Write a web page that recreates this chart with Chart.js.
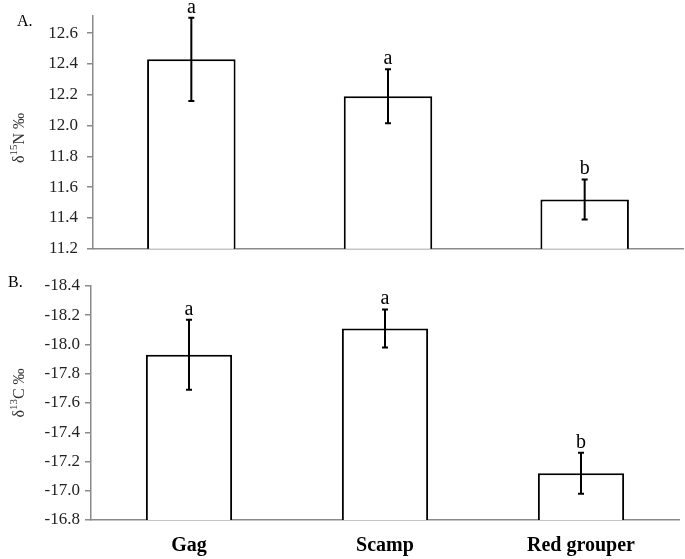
<!DOCTYPE html>
<html>
<head>
<meta charset="utf-8">
<script src="https://cdn.jsdelivr.net/npm/chart.js@4/dist/chart.umd.min.js"></script>
<style>
  html, body { margin: 0; padding: 0; background: #fff; }
  body { position: relative; width: 685px; height: 559px; overflow: hidden; }
  canvas { display: block; position: absolute; left: 0; }
  #chartA { top: -3px; }
  #chartB { top: 260px; }
</style>
</head>
<body>
<canvas id="chartA" width="685" height="271"></canvas>
<canvas id="chartB" width="685" height="299"></canvas>
<script>
// species along the x axis
const species = ["Gag", "Scamp", "Red grouper"];

// panel A: d15N means, error half-widths, significance letters
const nMeans = [12.43, 12.19, 11.52];
const nErr = [0.27, 0.175, 0.13];
const nLetters = ["a", "a", "b"];
const nTicks = [11.2, 11.4, 11.6, 11.8, 12.0, 12.2, 12.4, 12.6];

// panel B: d13C means, error half-widths, significance letters
const cMeans = [-17.93, -18.11, -17.12];
const cErr = [0.24, 0.13, 0.14];
const cLetters = ["a", "a", "b"];
const cTicks = [-18.4, -18.2, -18.0, -17.8, -17.6, -17.4, -17.2, -17.0, -16.8];

const SERIF = "'Liberation Serif', 'Times New Roman', serif";
const AXIS = "#8a8a8a";

// error bars, letters, panel tag and axis title
const decor = {
  id: "decor",
  afterDatasetsDraw(chart, args, opts) {
    const ctx = chart.ctx;
    const x = chart.scales.x, y = chart.scales.y;
    const means = chart.data.datasets[0].data;
    ctx.save();
    ctx.strokeStyle = "#000";
    ctx.lineWidth = 2;
    means.forEach((m, i) => {
      const px = x.getPixelForValue(i);
      const y1 = y.getPixelForValue(m + opts.err[i]);
      const y2 = y.getPixelForValue(m - opts.err[i]);
      ctx.beginPath();
      ctx.moveTo(px, y1); ctx.lineTo(px, y2);
      ctx.moveTo(px - 3, y1); ctx.lineTo(px + 3, y1);
      ctx.moveTo(px - 3, y2); ctx.lineTo(px + 3, y2);
      ctx.stroke();
      ctx.fillStyle = "#000";
      ctx.font = "20px " + SERIF;
      ctx.textAlign = "center";
      ctx.textBaseline = "alphabetic";
      ctx.fillText(opts.letters[i], px, Math.min(y1, y2) - 5);
    });
    ctx.restore();
  },
  afterDraw(chart, args, opts) {
    const ctx = chart.ctx;
    ctx.save();
    ctx.fillStyle = "#000";
    ctx.font = "16px " + SERIF;
    ctx.textAlign = "left";
    ctx.textBaseline = "alphabetic";
    ctx.fillText(opts.tag, opts.tagX, opts.tagY);

    // rotated y title with superscript isotope number
    ctx.translate(opts.titleX, opts.titleY);
    ctx.rotate(-Math.PI / 2);
    ctx.fillStyle = "#333";
    const parts = [["δ", 16, 0], [opts.iso, 11, -6], [opts.el + " ‰", 16, 0]];
    let w = 0;
    parts.forEach(p => { ctx.font = p[1] + "px " + SERIF; w += ctx.measureText(p[0]).width; });
    let cx = -w / 2;
    ctx.textBaseline = "middle";
    parts.forEach(p => {
      ctx.font = p[1] + "px " + SERIF;
      ctx.fillText(p[0], cx, p[2] + 5);
      cx += ctx.measureText(p[0]).width;
    });
    ctx.restore();
  }
};

function yScale(ticks, min, max, width, pad, reverse) {
  return {
    min: min, max: max, reverse: reverse,
    afterBuildTicks: s => { s.ticks = ticks.map(v => ({ value: v })); },
    afterFit: s => { s.width = width; },
    ticks: {
      callback: v => Number(v).toFixed(1),
      font: { family: SERIF, size: 17 },
      color: "#222",
      padding: pad
    },
    grid: { drawOnChartArea: false, drawTicks: true, tickLength: 6, color: AXIS, lineWidth: 1.5 },
    border: { color: AXIS, width: 1.5 }
  };
}

new Chart(document.getElementById("chartA"), {
  type: "bar",
  data: {
    labels: species,
    datasets: [{
      data: nMeans,
      backgroundColor: "#fff",
      borderColor: "#000",
      borderWidth: 2,
      borderSkipped: "start",
      categoryPercentage: 1,
      barPercentage: 0.45
    }]
  },
  options: {
    responsive: false,
    animation: false,
    layout: { padding: { top: 13, right: 2, bottom: 4, left: 0 } },
    plugins: {
      legend: { display: false },
      tooltip: { enabled: false },
      decor: { err: nErr, letters: nLetters, tag: "A.", tagX: 17, tagY: 29, titleX: 15, titleY: 141, iso: "15", el: "N" }
    },
    scales: {
      x: {
        ticks: { display: false },
        grid: { display: false },
        border: { color: AXIS, width: 1.5 },
        afterFit: s => { s.height = 0; }
      },
      y: yScale(nTicks, 11.2, 12.71, 93, 9, false)
    }
  },
  plugins: [decor]
});

new Chart(document.getElementById("chartB"), {
  type: "bar",
  data: {
    labels: species,
    datasets: [{
      data: cMeans,
      backgroundColor: "#fff",
      borderColor: "#000",
      borderWidth: 2,
      borderSkipped: false,
      categoryPercentage: 1,
      barPercentage: 0.44
    }]
  },
  options: {
    responsive: false,
    animation: false,
    layout: { padding: { top: 26, right: 6, bottom: 0, left: 0 } },
    plugins: {
      legend: { display: false },
      tooltip: { enabled: false },
      decor: { err: cErr, letters: cLetters, tag: "B.", tagX: 8, tagY: 27, titleX: 15, titleY: 133, iso: "13", el: "C" }
    },
    scales: {
      x: {
        ticks: { font: { family: SERIF, size: 20, weight: "bold" }, color: "#000", padding: 14 },
        grid: { display: false, drawTicks: false },
        border: { color: AXIS, width: 1.5 },
        afterFit: s => { s.height = 39; }
      },
      y: yScale(cTicks, -18.4, -16.8, 91, 5, true)
    }
  },
  plugins: [decor]
});
</script>
</body>
</html>
